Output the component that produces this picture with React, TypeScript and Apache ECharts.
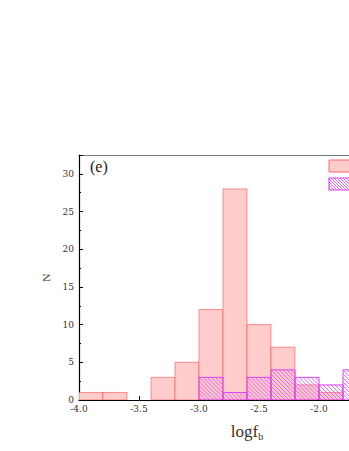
import React, { useEffect, useRef } from "react";
import * as echarts from "echarts";

const binStarts = [-4.0, -3.8, -3.6, -3.4, -3.2, -3.0, -2.8, -2.6, -2.4, -2.2, -2.0, -1.8];
const binWidth = 0.2;
const allCounts = [1, 1, 0, 3, 5, 12, 28, 10, 7, 2, 1, 0];
const subsetCounts = [0, 0, 0, 0, 0, 3, 1, 3, 4, 3, 2, 4];
const xTickLabels = [-4.0, -3.5, -3.0, -2.5, -2.0];
const yTicks = [0, 5, 10, 15, 20, 25, 30];

const PINK_FILL = "#FFCCCC";
const PINK_EDGE = "rgba(255,80,80,0.6)";
const MAG = "#DD44F5";
const SERIF = "'DejaVu Serif', 'Liberation Serif', serif";

function hatchLines(x0: number, y0: number, x1: number, y1: number, step: number, color: string) {
  const out: any[] = [];
  for (let c = y0 - x1; c <= y1 - x0; c += step) {
    const xs = Math.max(x0, y0 - c);
    const xe = Math.min(x1, y1 - c);
    if (xe > xs) {
      out.push({
        type: "line",
        shape: { x1: xs, y1: xs + c, x2: xe, y2: xe + c },
        style: { stroke: color, lineWidth: 0.8 },
        silent: true,
      });
    }
  }
  return out;
}

export default function App() {
  const ref = useRef<HTMLDivElement>(null);
  useEffect(() => {
    if (!ref.current) return;
    const chart = echarts.init(ref.current, undefined, { renderer: "svg" });
    const allData = binStarts.map((s, i) => [s, s + binWidth, allCounts[i]]);
    const subData = binStarts.map((s, i) => [s, s + binWidth, subsetCounts[i]]);
    chart.setOption({
      animation: false,
      grid: { left: 79, top: 155, bottom: 51, width: 336 },
      xAxis: [
        {
          type: "value",
          min: -4.0,
          max: -1.2,
          interval: 0.5,
          position: "bottom",
          name: "{a|logf}{b|b}",
          nameLocation: "middle",
          nameGap: 22,
          nameTextStyle: {
            rich: {
              a: { fontFamily: "'Liberation Serif', serif", fontSize: 17, color: "#333" },
              b: { fontFamily: "'Liberation Serif', serif", fontSize: 10, color: "#333", verticalAlign: "bottom", padding: [9, 0, 0, 0] },
            },
          },
          axisLine: { lineStyle: { color: "#000", width: 1.2 } },
          axisTick: { inside: true, length: 4, lineStyle: { color: "#000" } },
          minorTick: { show: true, splitNumber: 2, length: 2, lineStyle: { color: "#000" } },
          axisLabel: {
            fontFamily: SERIF,
            fontSize: 9,
            color: "#333",
            margin: 4,
            formatter: (v: number) =>
              xTickLabels.some((t) => Math.abs(t - v) < 1e-9) ? v.toFixed(1) : "",
          },
          splitLine: { show: false },
        },
        {
          type: "value",
          min: -4.0,
          max: -1.2,
          position: "top",
          axisLine: { lineStyle: { color: "#777", width: 1 } },
          axisTick: { show: false },
          axisLabel: { show: false },
          splitLine: { show: false },
        },
      ],
      yAxis: {
        type: "value",
        min: 0,
        max: 32.5,
        interval: 5,
        name: "N",
        nameLocation: "middle",
        nameGap: 20,
        nameTextStyle: { fontFamily: SERIF, fontSize: 10, color: "#333" },
        axisLine: { show: true, lineStyle: { color: "#000", width: 1.2 } },
        axisTick: { show: true, inside: true, length: 4, lineStyle: { color: "#000" } },
        minorTick: { show: true, splitNumber: 2, length: 2, lineStyle: { color: "#000" } },
        axisLabel: {
          fontFamily: SERIF,
          fontSize: 9,
          color: "#333",
          margin: 5,
          formatter: (v: number) => (yTicks.includes(v) ? String(v) : ""),
        },
        splitLine: { show: false },
      },
      series: [
        {
          type: "custom",
          name: "all",
          clip: true,
          data: allData,
          encode: { x: [0, 1], y: 2 },
          renderItem: (params: any, api: any) => {
            const v = api.value(2);
            if (!v) return null;
            const p0 = api.coord([api.value(0), v]);
            const p1 = api.coord([api.value(1), 0]);
            return {
              type: "rect",
              shape: { x: p0[0], y: p0[1], width: p1[0] - p0[0], height: p1[1] - p0[1] },
              style: { fill: PINK_FILL, stroke: PINK_EDGE, lineWidth: 1 },
            };
          },
        },
        {
          type: "custom",
          name: "subset",
          clip: true,
          data: subData,
          encode: { x: [0, 1], y: 2 },
          renderItem: (params: any, api: any) => {
            const v = api.value(2);
            if (!v) return null;
            const p0 = api.coord([api.value(0), v]);
            const p1 = api.coord([api.value(1), 0]);
            const children = hatchLines(p0[0], p0[1], p1[0], p1[1], 4, MAG);
            children.push({
              type: "rect",
              shape: { x: p0[0], y: p0[1], width: p1[0] - p0[0], height: p1[1] - p0[1] },
              style: { fill: "none", stroke: MAG, lineWidth: 1 },
            });
            return { type: "group", children };
          },
        },
      ],
      graphic: [
        {
          type: "text",
          left: 90,
          top: 158,
          style: { text: "(e)", font: "16px 'Liberation Serif', serif", fill: "#222" },
        },
        {
          type: "rect",
          shape: { x: 329, y: 160, width: 26, height: 12 },
          style: { fill: PINK_FILL, stroke: "#FF6666", lineWidth: 1 },
        },
        {
          type: "group",
          children: [
            ...hatchLines(329, 178, 355, 190, 3, MAG),
            {
              type: "rect",
              shape: { x: 329, y: 178, width: 26, height: 12 },
              style: { fill: "none", stroke: MAG, lineWidth: 1.2 },
            },
          ],
        },
      ],
    });
    return () => chart.dispose();
  }, []);
  return (
    <div style={{ position: "absolute", left: 0, top: 0, width: 349, height: 451, overflow: "hidden", background: "#fff" }}>
      <div ref={ref} style={{ width: 460, height: 451 }} />
    </div>
  );
}
